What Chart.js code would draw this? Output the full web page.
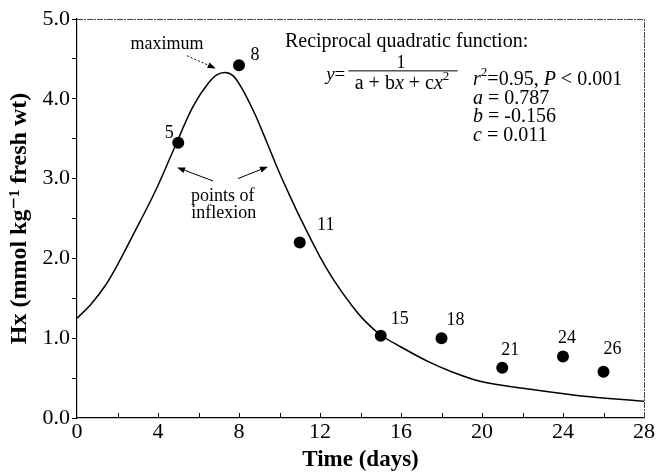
<!DOCTYPE html>
<html>
<head>
<meta charset="utf-8">
<script src="https://cdn.jsdelivr.net/npm/chart.js@4.4.0/dist/chart.umd.min.js"></script>
<style>
  html, body { margin: 0; padding: 0; background: #fff; }
  #wrap { width: 656px; height: 474px; }
</style>
</head>
<body>
<div id="wrap"><canvas id="grafico"></canvas></div>
<script>
// measured samples (day of storage, Hx)
const sampleDays = [5, 8, 11, 15, 18, 21, 24, 26];
const sampleHx = [3.45, 4.42, 2.2, 1.03, 1.0, 0.63, 0.77, 0.58];

// fitted curve
const curveDays = [0, 0.7, 1.4, 2, 2.7, 3.9, 4.7, 5.7, 6.5, 6.9, 7.3, 7.7, 8.1, 8.8, 9.4, 9.9, 10.5, 11, 12, 12.6, 13.6, 14.2, 15, 16, 17.4, 18.5, 19.9, 22.4, 24.8, 28];
const curveHx = [1.25, 1.43, 1.66, 1.92, 2.26, 2.86, 3.32, 3.89, 4.2, 4.3, 4.33, 4.29, 4.15, 3.8, 3.44, 3.13, 2.79, 2.52, 2.02, 1.76, 1.4, 1.22, 1.04, 0.89, 0.7, 0.58, 0.46, 0.36, 0.28, 0.21];

// axis ticks
const xTickLabels = [0, 4, 8, 12, 16, 20, 24, 28];
const yTickLabels = [0, 1, 2, 3, 4, 5];

const serif = "'Liberation Serif', 'DejaVu Serif', serif";

// label offsets next to each sample point (px)
const labelOffsets = [[-9, -9], [16, -10], [26, -17], [19, -17], [14, -18], [8, -17], [4, -18], [9, -22]];

function font(size, style) {
    return (style || '') + ' ' + size + 'px ' + serif;
}

// draws a line of text made of runs: [text, italic, superscript]
function drawRuns(ctx, runs, x, y, size, align) {
    let total = 0;
    runs.forEach(r => {
        ctx.font = font(r[2] ? size * 0.65 : size, r[1] ? 'italic' : '');
        total += ctx.measureText(r[0]).width;
    });
    let cx = align === 'center' ? x - total / 2 : align === 'right' ? x - total : x;
    ctx.textAlign = 'left';
    ctx.textBaseline = 'middle';
    runs.forEach(r => {
        ctx.font = font(r[2] ? size * 0.65 : size, r[1] ? 'italic' : '');
        ctx.fillText(r[0], cx, r[2] ? y - size * 0.35 : y);
        cx += ctx.measureText(r[0]).width;
    });
}

function arrow(ctx, x1, y1, x2, y2, dashed) {
    ctx.save();
    ctx.strokeStyle = '#000';
    ctx.fillStyle = '#000';
    ctx.lineWidth = 1;
    if (dashed) ctx.setLineDash([2, 2]);
    const ang = Math.atan2(y2 - y1, x2 - x1);
    const hx = x2 - 8 * Math.cos(ang), hy = y2 - 8 * Math.sin(ang);
    ctx.beginPath();
    ctx.moveTo(x1, y1);
    ctx.lineTo(hx, hy);
    ctx.stroke();
    ctx.setLineDash([]);
    ctx.beginPath();
    ctx.moveTo(x2, y2);
    ctx.lineTo(hx + 3 * Math.sin(ang), hy - 3 * Math.cos(ang));
    ctx.lineTo(hx - 3 * Math.sin(ang), hy + 3 * Math.cos(ang));
    ctx.closePath();
    ctx.fill();
    ctx.restore();
}

const annotations = {
    id: 'annotations',
    afterDraw(chart) {
        const ctx = chart.ctx;
        const xs = chart.scales.x, ys = chart.scales.y;
        const px = v => xs.getPixelForValue(v);
        const py = v => ys.getPixelForValue(v);
        const area = chart.chartArea;

        ctx.save();
        // frame top and right
        ctx.strokeStyle = '#444';
        ctx.lineWidth = 1;
        ctx.setLineDash([6, 1, 2, 1]);
        ctx.beginPath();
        ctx.moveTo(area.left, area.top + 0.5);
        ctx.lineTo(area.right + 0.5, area.top + 0.5);
        ctx.lineTo(area.right + 0.5, area.bottom);
        ctx.stroke();
        ctx.setLineDash([]);

        // inward ticks on x
        ctx.strokeStyle = '#000';
        for (let d = 2; d < 28; d += 2) {
            ctx.beginPath();
            ctx.moveTo(Math.round(px(d)) + 0.5, area.bottom);
            ctx.lineTo(Math.round(px(d)) + 0.5, area.bottom - 5);
            ctx.stroke();
        }

        ctx.fillStyle = '#000';
        // point labels
        sampleDays.forEach((d, i) => {
            drawRuns(ctx, [[String(d)]], px(d) + labelOffsets[i][0], py(sampleHx[i]) + labelOffsets[i][1], 18, 'center');
        });

        // maximum
        drawRuns(ctx, [['maximum']], px(4.44), py(4.68), 18, 'center');
        arrow(ctx, px(5.43), py(4.54), px(6.85), py(4.38), true);

        // points of inflexion
        drawRuns(ctx, [['points of']], px(7.2), py(2.78), 18, 'center');
        drawRuns(ctx, [['inflexion']], px(7.25), py(2.57), 18, 'center');
        arrow(ctx, px(6.72), py(2.97), px(4.94), py(3.14), false);
        arrow(ctx, px(7.95), py(3.0), px(9.43), py(3.15), false);

        // equation
        drawRuns(ctx, [['Reciprocal quadratic function:']], px(10.27), py(4.71), 20, 'left');
        drawRuns(ctx, [['y', true], ['=']], px(13.25), py(4.3), 19, 'right');
        drawRuns(ctx, [['1']], px(16.0), py(4.45), 18, 'center');
        ctx.lineWidth = 1;
        ctx.beginPath();
        ctx.moveTo(px(13.4), py(4.35));
        ctx.lineTo(px(18.8), py(4.35));
        ctx.stroke();
        drawRuns(ctx, [['a + b'], ['x', true], [' + c'], ['x', true], ['2', false, true]], px(16.05), py(4.19), 20, 'center');

        drawRuns(ctx, [['r', true], ['2', false, true], ['=0.95, '], ['P', true], [' < 0.001']], px(19.56), py(4.24), 20, 'left');
        drawRuns(ctx, [['a', true], [' = 0.787']], px(19.56), py(4.0), 20, 'left');
        drawRuns(ctx, [['b', true], [' = -0.156']], px(19.56), py(3.77), 20, 'left');
        drawRuns(ctx, [['c', true], [' = 0.011']], px(19.56), py(3.54), 20, 'left');
        ctx.restore();
    }
};

new Chart(document.getElementById('grafico'), {
    type: 'scatter',
    data: {
        datasets: [
            {
                data: curveDays.map((d, i) => ({ x: d, y: curveHx[i] })),
                showLine: true,
                borderColor: '#000',
                borderWidth: 1.5,
                pointRadius: 0,
                cubicInterpolationMode: 'monotone',
                fill: false
            },
            {
                data: sampleDays.map((d, i) => ({ x: d, y: sampleHx[i] })),
                showLine: false,
                pointRadius: 6,
                pointBackgroundColor: '#000',
                pointBorderColor: '#000',
                pointBorderWidth: 0
            }
        ]
    },
    options: {
        responsive: true,
        maintainAspectRatio: false,
        animation: false,
        layout: { padding: { top: 19, right: 11, left: 0, bottom: 0 } },
        plugins: {
            legend: { display: false },
            tooltip: { enabled: false }
        },
        scales: {
            x: {
                type: 'linear',
                min: 0,
                max: 28,
                afterFit: s => { s.height = 56; },
                afterBuildTicks: s => { s.ticks = [...Array(15).keys()].map(i => ({ value: i * 2 })); },
                border: { display: true, color: '#000', width: 1.2 },
                grid: { display: true, drawOnChartArea: false, drawTicks: false, color: 'rgba(0,0,0,0)' },
                ticks: {
                    color: '#000',
                    font: { family: serif, size: 22 },
                    padding: 1,
                    maxRotation: 0,
                    autoSkip: false,
                    callback: v => xTickLabels.includes(v) ? String(v) : ''
                },
                title: {
                    display: true,
                    text: 'Time (days)',
                    color: '#000',
                    font: { family: serif, size: 23, weight: 'bold' },
                    padding: { top: 0, bottom: 0 }
                }
            },
            y: {
                type: 'linear',
                min: 0,
                max: 5,
                afterFit: s => { s.width = 77; },
                afterBuildTicks: s => { s.ticks = [...Array(11).keys()].map(i => ({ value: i * 0.5 })); },
                border: { display: true, color: '#000', width: 1.2 },
                grid: { display: true, drawOnChartArea: false, drawTicks: true, tickLength: 5, color: '#000' },
                ticks: {
                    color: '#000',
                    font: { family: serif, size: 22 },
                    padding: 2,
                    autoSkip: false,
                    callback: v => yTickLabels.includes(v) ? v.toFixed(1) : ''
                },
                title: {
                    display: true,
                    text: 'Hx (mmol kg\u207B\u00B9 fresh wt)',
                    color: '#000',
                    font: { family: serif, size: 24, weight: 'bold' },
                    padding: { top: 5, bottom: 0 }
                }
            }
        }
    },
    plugins: [annotations]
});
</script>
</body>
</html>
